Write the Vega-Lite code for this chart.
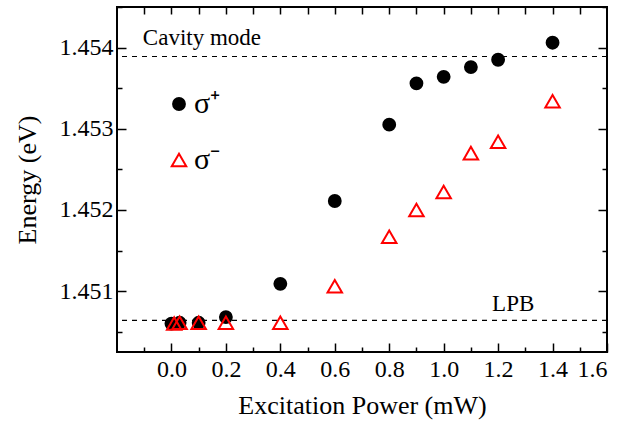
{
  "$schema": "https://vega.github.io/schema/vega-lite/v6.json",
  "width": 490,
  "height": 345,
  "autosize": {"type": "none"},
  "padding": {"left": 117, "top": 7, "right": 15, "bottom": 71},
  "background": "white",
  "config": {
    "view": {"stroke": "black", "strokeWidth": 2},
    "font": "Times New Roman",
    "axis": {"grid": false, "domain": false, "tickColor": "black", "tickWidth": 1.5, "labelColor": "black", "titleColor": "black", "labelFont": "Times New Roman", "titleFont": "Times New Roman", "labelFontSize": 24, "titleFontSize": 26, "titleFontWeight": "normal"},
    "legend": {"labelFont": "Times New Roman"}
  },
  "datasets": {
    "pts": [
      {"power": 0.0, "energy": 1.45060, "pol": "σ⁺"},
      {"power": 0.03, "energy": 1.45061, "pol": "σ⁺"},
      {"power": 0.1, "energy": 1.45061, "pol": "σ⁺"},
      {"power": 0.2, "energy": 1.45068, "pol": "σ⁺"},
      {"power": 0.4, "energy": 1.45109, "pol": "σ⁺"},
      {"power": 0.6, "energy": 1.45211, "pol": "σ⁺"},
      {"power": 0.8, "energy": 1.45305, "pol": "σ⁺"},
      {"power": 0.9, "energy": 1.45356, "pol": "σ⁺"},
      {"power": 1.0, "energy": 1.45364, "pol": "σ⁺"},
      {"power": 1.1, "energy": 1.45376, "pol": "σ⁺"},
      {"power": 1.2, "energy": 1.45385, "pol": "σ⁺"},
      {"power": 1.4, "energy": 1.45406, "pol": "σ⁺"},
      {"power": 0.01, "energy": 1.45060, "pol": "σ⁻"},
      {"power": 0.03, "energy": 1.45061, "pol": "σ⁻"},
      {"power": 0.1, "energy": 1.45061, "pol": "σ⁻"},
      {"power": 0.2, "energy": 1.45061, "pol": "σ⁻"},
      {"power": 0.4, "energy": 1.45061, "pol": "σ⁻"},
      {"power": 0.6, "energy": 1.45106, "pol": "σ⁻"},
      {"power": 0.8, "energy": 1.45167, "pol": "σ⁻"},
      {"power": 0.9, "energy": 1.45200, "pol": "σ⁻"},
      {"power": 1.0, "energy": 1.45222, "pol": "σ⁻"},
      {"power": 1.1, "energy": 1.45270, "pol": "σ⁻"},
      {"power": 1.2, "energy": 1.45284, "pol": "σ⁻"},
      {"power": 1.4, "energy": 1.45334, "pol": "σ⁻"}
    ],
    "lines": [
      {"energy": 1.45389, "name": "Cavity mode"},
      {"energy": 1.45064, "name": "LPB"}
    ],
    "labels": [
      {"power": -0.105, "energy": 1.45403, "text": "Cavity mode"},
      {"power": 1.178, "energy": 1.45076, "text": "LPB"}
    ]
  },
  "resolve": {"axis": {"x": "independent", "y": "independent"}},
  "layer": [
    {
      "data": {"name": "lines"},
      "mark": {"type": "rule", "color": "black", "strokeDash": [5, 5], "strokeWidth": 1.2},
      "encoding": {
        "y": {"field": "energy", "type": "quantitative", "scale": {"domain": [1.45025, 1.4545], "nice": false, "zero": false},
          "axis": {"orient": "left", "values": [1.451, 1.452, 1.453, 1.454], "format": ".3f", "tickSize": -9, "labelPadding": 13, "title": "Energy (eV)", "titlePadding": 19}}
      }
    },
    {
      "data": {"name": "labels"},
      "mark": {"type": "text", "align": "left", "baseline": "alphabetic", "fontSize": 23, "font": "Times New Roman", "color": "black"},
      "encoding": {
        "x": {"field": "power", "type": "quantitative", "scale": {"domain": [-0.2, 1.6], "nice": false, "zero": false},
          "axis": {"orient": "bottom", "values": [0, 0.2, 0.4, 0.6, 0.8, 1.0, 1.2, 1.4, 1.6], "format": ".1f", "tickSize": -9, "labelPadding": 14, "title": "Excitation Power (mW)", "titlePadding": 11}},
        "y": {"field": "energy", "type": "quantitative",
          "axis": {"orient": "left", "values": [1.4505, 1.4515, 1.4525, 1.4535, 1.4545], "labels": false, "tickSize": -5, "title": null}},
        "text": {"field": "text"}
      }
    },
    {
      "data": {"name": "pts"},
      "mark": {"type": "point", "strokeWidth": 2, "opacity": 1},
      "encoding": {
        "x": {"field": "power", "type": "quantitative",
          "axis": {"orient": "bottom", "values": [-0.1, 0.1, 0.3, 0.5, 0.7, 0.9, 1.1, 1.3, 1.5], "labels": false, "tickSize": -5, "title": null}},
        "y": {"field": "energy", "type": "quantitative",
          "axis": {"orient": "right", "values": [1.451, 1.452, 1.453, 1.454], "labels": false, "tickSize": -9, "title": null}},
        "shape": {"field": "pol", "type": "nominal", "scale": {"domain": ["σ⁺", "σ⁻"], "range": ["circle", "triangle-up"]}, "title": null,
          "legend": {"orient": "none", "legendX": 47, "legendY": 82, "labelFontSize": 30, "labelFont": "Times New Roman", "labelColor": "black", "symbolStrokeWidth": 2, "rowPadding": 26, "labelOffset": 0}},
        "size": {"field": "pol", "type": "nominal", "scale": {"domain": ["σ⁺", "σ⁻"], "range": [140, 210]}, "title": null},
        "fill": {"field": "pol", "type": "nominal", "scale": {"domain": ["σ⁺", "σ⁻"], "range": ["black", "transparent"]}, "title": null},
        "stroke": {"field": "pol", "type": "nominal", "scale": {"domain": ["σ⁺", "σ⁻"], "range": ["black", "#ff0000"]}, "title": null}
      }
    },
    {
      "data": {"name": "lines"},
      "mark": {"type": "rule", "opacity": 0},
      "encoding": {
        "x": {"datum": 0, "type": "quantitative",
          "axis": {"orient": "top", "values": [-0.1, 0, 0.1, 0.2, 0.3, 0.4, 0.5, 0.6, 0.7, 0.8, 0.9, 1.0, 1.1, 1.2, 1.3, 1.4, 1.5], "labels": false, "tickSize": -7, "title": null}},
        "y": {"field": "energy", "type": "quantitative",
          "axis": {"orient": "right", "values": [1.4505, 1.4515, 1.4525, 1.4535, 1.4545], "labels": false, "tickSize": -5, "title": null}}
      }
    }
  ]
}
